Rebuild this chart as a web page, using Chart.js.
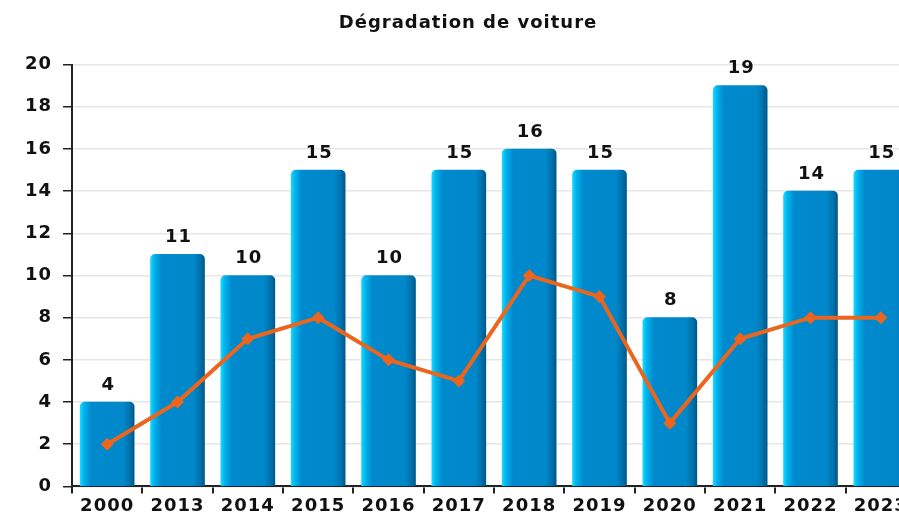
<!DOCTYPE html>
<html>
<head>
<meta charset="utf-8">
<script src="https://cdn.jsdelivr.net/npm/chart.js@4"></script>
<style>
  html, body { margin: 0; padding: 0; background: #fff; overflow: hidden; }
  #wrap { width: 936px; height: 520px; }
</style>
</head>
<body>
<div id="wrap"><canvas id="chart" width="936" height="520"></canvas></div>
<script>
// ── Data ─────────────────────────────────────────────────────────────────────

const years      = ['2000','2013','2014','2015','2016','2017','2018','2019','2020','2021','2022','2023'];
const barValues  = [4, 11, 10, 15, 10, 15, 16, 15, 8, 19, 14, 15];
const lineValues = [2, 4, 7, 8, 6, 5, 10, 9, 3, 7, 8, 8];
const yTicks     = [0, 2, 4, 6, 8, 10, 12, 14, 16, 18, 20];

const FONT = "'DejaVu Sans', sans-serif";
const SPACING = '1px';

// ── Helpers ──────────────────────────────────────────────────────────────────

// horizontal shading per bar, built from the x scale
function barFill(ctx) {
    const chart = ctx.chart;
    const xs = chart.scales.x;
    if (!xs || ctx.dataIndex === undefined) return '#0088cc';
    const xc = xs.getPixelForValue(ctx.dataIndex);
    if (!isFinite(xc)) return '#0088cc';
    const w = 54;
    const g = chart.ctx.createLinearGradient(xc - w / 2, 0, xc + w / 2, 0);
    g.addColorStop(0.00, '#18d8ff');
    g.addColorStop(0.07, '#00b4ee');
    g.addColorStop(0.20, '#0089cc');
    g.addColorStop(0.80, '#0088cb');
    g.addColorStop(0.92, '#0071ab');
    g.addColorStop(1.00, '#005a8a');
    return g;
}

// wider tracking like the original renderer
const tracking = {
    id: 'tracking',
    beforeLayout(chart) { chart.ctx.letterSpacing = SPACING; },
    beforeDraw(chart)   { chart.ctx.letterSpacing = SPACING; }
};

const valueLabels = {
    id: 'valueLabels',
    afterDatasetsDraw(chart) {
        const meta = chart.getDatasetMeta(1);
        const c = chart.ctx;
        c.save();
        c.letterSpacing = SPACING;
        c.font = 'bold 18px ' + FONT;
        c.fillStyle = '#111';
        c.textAlign = 'center';
        c.textBaseline = 'bottom';
        meta.data.forEach((bar, i) => {
            c.fillText(String(barValues[i]), bar.x + 1, bar.y - 8);
        });
        c.restore();
    }
};

// ── Chart ────────────────────────────────────────────────────────────────────

new Chart(document.getElementById('chart').getContext('2d'), {
    data: {
        labels: years,
        datasets: [
            {
                type: 'line',
                data: lineValues,
                borderColor: '#ea661e',
                backgroundColor: '#ea661e',
                borderWidth: 4,
                pointStyle: 'rectRot',
                pointRadius: 6.5,
                pointBorderWidth: 0,
                tension: 0,
                order: 0
            },
            {
                type: 'bar',
                data: barValues,
                backgroundColor: barFill,
                borderWidth: 0,
                borderRadius: { topLeft: 5, topRight: 5 },
                borderSkipped: 'bottom',
                barThickness: 54,
                order: 1
            }
        ]
    },
    options: {
        responsive: false,
        animation: false,
        layout: { padding: { left: 20, right: 20, top: 0, bottom: 1 } },
        plugins: {
            legend: { display: false },
            tooltip: { enabled: false },
            title: {
                display: true,
                text: 'Dégradation de voiture',
                color: '#111',
                font: { family: FONT, size: 18, weight: 'bold' },
                padding: { top: 13, bottom: 30 }
            }
        },
        scales: {
            x: {
                border: { color: '#222', width: 2 },
                grid: {
                    display: true,
                    offset: true,
                    drawOnChartArea: false,
                    drawTicks: true,
                    tickLength: 7,
                    tickColor: '#222',
                    lineWidth: 2
                },
                ticks: {
                    color: '#111',
                    padding: 2,
                    maxRotation: 0,
                    autoSkip: false,
                    font: { family: FONT, size: 18, weight: 'bold' }
                }
            },
            y: {
                min: 0,
                max: 20,
                afterBuildTicks: (s) => { s.ticks = yTicks.map(v => ({ value: v })); },
                afterFit: (s) => { s.width = 52; },
                border: { color: '#222', width: 2 },
                grid: {
                    color: '#e6e6e6',
                    lineWidth: 1.5,
                    tickColor: '#222',
                    tickLength: 9,
                    drawTicks: true
                },
                ticks: {
                    color: '#111',
                    padding: 11,
                    font: { family: FONT, size: 18, weight: 'bold' }
                }
            }
        }
    },
    plugins: [tracking, valueLabels]
});
</script>
</body>
</html>
